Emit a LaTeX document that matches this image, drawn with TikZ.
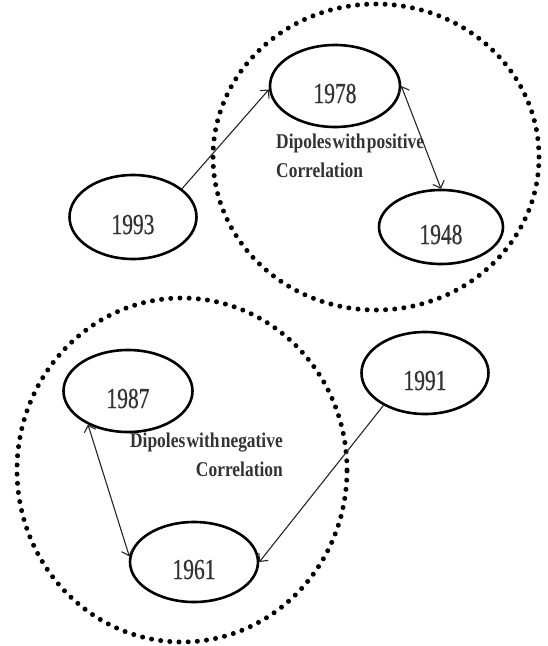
\documentclass[tikz,border=0pt]{standalone}
\usepackage{fontspec}
\usetikzlibrary{shapes.geometric,arrows.meta}
\newfontfamily\numfont[FakeStretch=0.74,FakeBold=0.6]{Liberation Serif}
\newfontfamily\lblfont[FakeStretch=0.83,WordSpace=0.3]{Liberation Serif}
\begin{document}
\begin{tikzpicture}[x=1pt,y=-1pt,
  yearnode/.style={draw=black,line width=2.6pt,ellipse,inner sep=0pt,
    font=\numfont\fontsize{29}{29}\selectfont,text=black!80,
    text height=34pt,text depth=0pt},
  dotring/.style={line width=5pt,line cap=round,dash pattern=on 0pt off 9.2pt},
  link/.style={line width=1.1pt,black!85},
  tip/.style={-{Straight Barb[length=6pt,width=12pt,line width=1.1pt]}},
  bitip/.style={{Straight Barb[length=6pt,width=12pt,line width=1.1pt]}-{Straight Barb[length=6pt,width=12pt,line width=1.1pt]}},
  lbl/.style={font=\lblfont\bfseries\fontsize{21}{28.5}\selectfont,text=black!80,inner sep=0pt}]
\useasboundingbox (0,0) rectangle (548,646);
\fill[white] (0,0) rectangle (548,646);
% dotted rings
\draw[dotring] (376,157) ellipse [x radius=163pt, y radius=153pt];
\draw[dotring] (182,470) ellipse [x radius=165pt, y radius=172pt];
% year nodes
\node[yearnode,minimum width=130pt,minimum height=82pt] (n1978) at (335,86) {1978};
\node[yearnode,minimum width=124pt,minimum height=74pt] (n1948) at (441,227) {1948};
\node[yearnode,minimum width=127pt,minimum height=84pt] (n1993) at (133,217) {1993};
\node[yearnode,minimum width=129pt,minimum height=82pt] (n1987) at (128,391) {1987};
\node[yearnode,minimum width=128pt,minimum height=80pt] (n1961) at (194,562) {1961};
\node[yearnode,minimum width=127pt,minimum height=82pt] (n1991) at (425,373) {1991};
% labels
\node[lbl,anchor=base west,align=left] (lpos) at (276,177) {Dipoles with positive\\Correlation};
\node[lbl,anchor=base east,align=right] (lneg) at (283,476) {Dipoles with negative\\Correlation};
% connectors
\draw[link,tip] (n1993.30) -- (n1978.183);
\draw[link,bitip] (n1978.east) -- (n1948.north);
\draw[link,bitip] (n1987.220) -- (n1961.175);
\draw[link,tip] (n1991.218) -- (n1961.east);
\end{tikzpicture}
\end{document}
